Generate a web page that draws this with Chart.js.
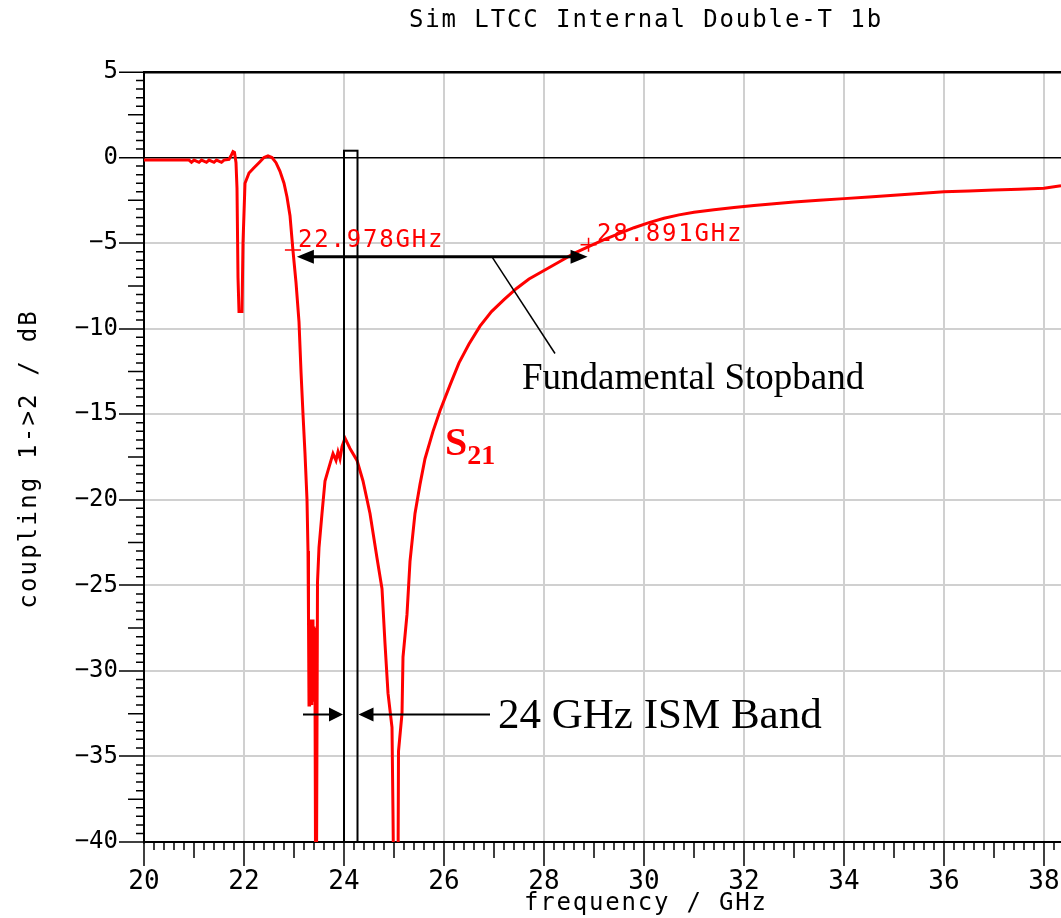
<!DOCTYPE html>
<html>
<head>
<meta charset="utf-8">
<script src="https://cdn.jsdelivr.net/npm/chart.js@4.4.1/dist/chart.umd.min.js"></script>
<style>
html,body{margin:0;padding:0;background:#fff;}
#wrap{width:1061px;height:918px;position:relative;}
</style>
</head>
<body>
<div id="wrap"><canvas id="c"></canvas></div>
<script>
// ---- data ----
const freqGHz = [
  20.0, 20.5, 20.9, 20.95, 21.0, 21.1, 21.15, 21.25, 21.3, 21.4, 21.45, 21.55, 21.6, 21.7,
  21.74, 21.78, 21.81, 21.84, 21.86, 21.88, 21.9, 21.96, 21.98, 22.02, 22.1, 22.2, 22.3,
  22.4, 22.48, 22.56, 22.64, 22.72, 22.8, 22.86, 22.92, 22.978, 23.04, 23.1, 23.14, 23.18,
  23.22, 23.26, 23.28, 23.29, 23.3, 23.31, 23.32, 23.33, 23.34, 23.35, 23.36, 23.37, 23.38,
  23.39, 23.4, 23.41, 23.42, 23.44, 23.47,
  23.5, 23.56, 23.62, 23.68, 23.78, 23.84, 23.88, 23.92, 23.96, 24.02, 24.12, 24.26, 24.38,
  24.52, 24.66, 24.76, 24.82, 24.88, 24.96, 24.98, 25.02, 25.07, 25.09, 25.16, 25.18, 25.26,
  25.32, 25.42, 25.52, 25.62, 25.78, 25.92, 26.12, 26.3, 26.5, 26.72, 26.95, 27.2, 27.45,
  27.7, 28.0, 28.3, 28.6, 28.891, 29.2, 29.5, 29.8, 30.1, 30.4, 30.7, 31.0, 31.4, 31.8,
  32.2, 32.6, 33.0, 33.5, 34.0, 34.5, 35.0, 35.5, 36.0, 36.5, 37.0, 37.5, 38.0, 38.34
];
const s21dB = [
  -0.15, -0.15, -0.15, -0.28, -0.15, -0.28, -0.15, -0.28, -0.15, -0.28, -0.15, -0.28, -0.15, -0.1,
  0.1, 0.35, 0.3, -0.3, -1.8, -7.0, -9.0, -9.0, -5.0, -1.5, -0.9, -0.6, -0.3,
  0.0, 0.1, 0.0, -0.3, -0.8, -1.5, -2.3, -3.4, -5.4, -7.3, -9.6, -12.5, -15.0,
  -17.3, -20.0, -23.0, -27.0, -32.0, -27.2, -31.8, -27.0, -31.5, -27.3, -32.0, -27.0, -31.6,
  -27.4, -31.8, -27.5, -31.0, -50, -24.8,
  -22.8, -20.8, -18.9, -18.3, -17.3, -17.7, -17.2, -17.6, -16.9, -16.4, -17.0, -17.7, -18.9,
  -20.8, -23.4, -25.2, -28.4, -31.3, -33.3, -38.4, -50, -50, -34.7, -32.5, -29.2, -26.7,
  -23.6, -20.8, -19.1, -17.6, -16.0, -14.8, -13.3, -12.0, -10.9, -9.85, -9.0, -8.3, -7.65,
  -7.1, -6.6, -6.1, -5.6, -5.2, -4.8, -4.45, -4.1, -3.8, -3.55, -3.35, -3.2, -3.05, -2.92,
  -2.8, -2.7, -2.6, -2.5, -2.4, -2.3, -2.2, -2.1, -2.0, -1.95, -1.9, -1.85, -1.8, -1.65
];
const xTickValues = [20, 22, 24, 26, 28, 30, 32, 34, 36, 38];
const yTickValues = [5, 0, -5, -10, -15, -20, -25, -30, -35, -40];

const chartTitle = 'Sim LTCC Internal Double-T 1b';
const xAxisTitle = 'frequency / GHz';
const yAxisTitle = 'coupling 1->2 / dB';

// annotations (data coordinates)
const ismBand = [24.0, 24.27];
const ismBoxTop = 0.4;
const markerFreqs = [22.978, 28.891];
const markerLevels = [-5.4, -5.1];
const markerLabels = ['22.978GHz', '28.891GHz'];
const markerLabelPos = [[23.08, -5.2], [29.06, -4.9]];
const stopbandLevel = -5.8;
const stopbandText = 'Fundamental Stopband';
const stopbandTextPos = [27.56, -12.97];
const stopbandPointer = [[26.96, -5.8], [28.22, -11.45]];
const ismText = '24 GHz ISM Band';
const ismTextPos = [27.08, -32.67];
const ismArrowLevel = -32.55;
const ismArrowLeftStart = 23.18;
const ismArrowRightEnd = 26.92;
const seriesLabelPos = [26.02, -17.36];

const points = freqGHz.map((f, i) => ({ x: f, y: s21dB[i] }));

const MONO = '"DejaVu Sans Mono", "Liberation Mono", monospace';
const SERIF = '"Liberation Serif", "DejaVu Serif", serif';

function spacedText(ctx, text, x, y, spacing, align) {
  ctx.letterSpacing = spacing + 'px';
  const w = ctx.measureText(text).width - spacing;
  let sx = x;
  if (align === 'center') sx = x - w / 2;
  ctx.textAlign = 'left';
  ctx.fillText(text, sx, y);
  ctx.letterSpacing = '0px';
}

function arrowHead(ctx, px, py, dir, L, W) {
  ctx.beginPath();
  ctx.moveTo(px, py);
  ctx.lineTo(px - dir * L, py - W);
  ctx.lineTo(px - dir * L, py + W);
  ctx.closePath();
  ctx.fill();
}

const overlay = {
  id: 'overlay',
  afterDraw(chart) {
    const { ctx, chartArea: a, scales: { x, y } } = chart;
    const X = v => x.getPixelForValue(v);
    const Y = v => y.getPixelForValue(v);
    ctx.save();

    // minor ticks x
    ctx.strokeStyle = '#000';
    ctx.lineWidth = 1.5;
    ctx.beginPath();
    for (let i = 0; i <= 91; i++) {
      if (i % 10 === 0) continue;
      const px = X(20 + i * 0.2);
      if (px > a.right) break;
      const len = (i % 5 === 0) ? 16 : 8;
      ctx.moveTo(px, a.bottom);
      ctx.lineTo(px, a.bottom + len);
    }
    // minor ticks y
    for (let i = 0; i <= 90; i++) {
      if (i % 10 === 0) continue;
      const py = Y(-40 + i * 0.5);
      const len = (i % 5 === 0) ? 16 : 8;
      ctx.moveTo(a.left - len, py);
      ctx.lineTo(a.left, py);
    }
    ctx.stroke();

    // ISM band box
    ctx.lineWidth = 2;
    ctx.strokeStyle = '#000';
    ctx.strokeRect(X(ismBand[0]), Y(ismBoxTop), X(ismBand[1]) - X(ismBand[0]), Y(-40) - Y(ismBoxTop));

    // stopband arrow
    ctx.fillStyle = '#000';
    ctx.lineWidth = 3;
    const sy = Y(stopbandLevel);
    const sx0 = X(markerFreqs[0]) + 4, sx1 = X(markerFreqs[1]) - 1;
    ctx.beginPath();
    ctx.moveTo(sx0 + 10, sy); ctx.lineTo(sx1 - 10, sy); ctx.stroke();
    arrowHead(ctx, sx0, sy, -1, 17, 7);
    arrowHead(ctx, sx1, sy, 1, 17, 7);

    // pointer line
    ctx.lineWidth = 1.5;
    ctx.beginPath();
    ctx.moveTo(X(stopbandPointer[0][0]), Y(stopbandPointer[0][1]));
    ctx.lineTo(X(stopbandPointer[1][0]), Y(stopbandPointer[1][1]));
    ctx.stroke();

    // ISM arrows
    const iy = Y(ismArrowLevel);
    ctx.lineWidth = 2;
    ctx.beginPath();
    ctx.moveTo(X(ismArrowLeftStart), iy); ctx.lineTo(X(ismBand[0]) - 8, iy);
    ctx.moveTo(X(ismBand[1]) + 8, iy); ctx.lineTo(X(ismArrowRightEnd), iy);
    ctx.stroke();
    arrowHead(ctx, X(ismBand[0]) - 1, iy, 1, 14, 7);
    arrowHead(ctx, X(ismBand[1]) + 1, iy, -1, 15, 7);

    // serif texts
    ctx.fillStyle = '#000';
    ctx.textBaseline = 'middle';
    ctx.textAlign = 'left';
    ctx.font = '37px ' + SERIF;
    ctx.fillText(stopbandText, X(stopbandTextPos[0]), Y(stopbandTextPos[1]));
    ctx.font = '43px ' + SERIF;
    ctx.fillText(ismText, X(ismTextPos[0]), Y(ismTextPos[1]));

    // S21 label
    ctx.fillStyle = '#ff0000';
    ctx.textBaseline = 'alphabetic';
    ctx.font = 'bold 40px ' + SERIF;
    const s0 = X(seriesLabelPos[0]), b0 = Y(seriesLabelPos[1]);
    ctx.fillText('S', s0, b0);
    const sw = ctx.measureText('S').width;
    ctx.font = 'bold 28px ' + SERIF;
    ctx.fillText('21', s0 + sw, b0 + 9);

    // markers
    ctx.strokeStyle = '#ff0000';
    ctx.lineWidth = 1.5;
    for (let k = 0; k < markerFreqs.length; k++) {
      const mx = X(markerFreqs[k]), my = Y(markerLevels[k]);
      ctx.beginPath();
      ctx.moveTo(mx - 8, my); ctx.lineTo(mx + 8, my);
      ctx.moveTo(mx, my - 7); ctx.lineTo(mx, my + 7);
      ctx.stroke();
      ctx.font = '24px ' + MONO;
      ctx.textBaseline = 'alphabetic';
      spacedText(ctx, markerLabels[k], X(markerLabelPos[k][0]), Y(markerLabelPos[k][1]), 1.8, 'left');
    }

    // titles
    ctx.fillStyle = '#000';
    ctx.font = '24px ' + MONO;
    ctx.textBaseline = 'middle';
    spacedText(ctx, chartTitle, 645, 21, 1.9, 'center');
    spacedText(ctx, xAxisTitle, 645, 904, 1.8, 'center');
    ctx.save();
    ctx.translate(30, 460);
    ctx.rotate(-Math.PI / 2);
    spacedText(ctx, yAxisTitle, 0, 0, 2.2, 'center');
    ctx.restore();

    ctx.restore();
  }
};

new Chart(document.getElementById('c'), {
  type: 'scatter',
  data: {
    datasets: [{
      label: 'S21',
      data: points,
      showLine: true,
      borderColor: '#ff0000',
      backgroundColor: '#ff0000',
      borderWidth: 3,
      pointRadius: 0,
      tension: 0
    }]
  },
  options: {
    responsive: true,
    maintainAspectRatio: false,
    animation: false,
    layout: { padding: { top: 72, left: 0, right: 0, bottom: 0 } },
    plugins: { legend: { display: false }, tooltip: { enabled: false }, title: { display: false } },
    scales: {
      x: {
        type: 'linear',
        min: 20, max: 38.34,
        afterBuildTicks: s => { s.ticks = xTickValues.map(v => ({ value: v })); },
        afterFit: s => { s.height = 76; },
        ticks: {
          color: '#000',
          font: { family: MONO, size: 26 },
          padding: 1,
          maxRotation: 0,
          autoSkip: false,
          callback: v => String(v)
        },
        grid: {
          color: '#d0d0d0',
          lineWidth: 2,
          drawTicks: true,
          tickLength: 24,
          tickColor: '#000',
          tickWidth: 1.5
        },
        border: { display: true, color: '#000', width: 2 }
      },
      y: {
        type: 'linear',
        min: -40, max: 5,
        afterBuildTicks: s => { s.ticks = yTickValues.map(v => ({ value: v })); },
        afterFit: s => { s.width = 144; },
        ticks: {
          color: '#000',
          font: { family: MONO, size: 24 },
          padding: 1,
          autoSkip: false,
          callback: v => (v < 0 ? '\u2212' + Math.abs(v) : String(v))
        },
        grid: {
          color: c => (c.tick && (c.tick.value === 0 || c.tick.value === 5)) ? '#000' : '#d0d0d0',
          lineWidth: c => (c.tick && c.tick.value === 5) ? 2.5 : (c.tick && c.tick.value === 0 ? 1.5 : 2),
          drawTicks: true,
          tickLength: 25,
          tickColor: '#000',
          tickWidth: 1.5
        },
        border: { display: true, color: '#000', width: 2 }
      }
    }
  },
  plugins: [overlay]
});
</script>
</body>
</html>
